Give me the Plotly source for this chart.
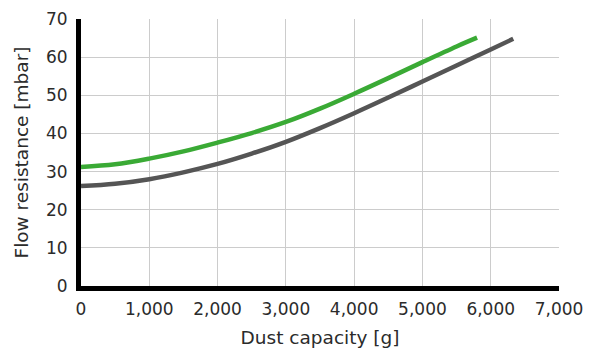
import plotly.graph_objects as go

green_x = [0, 500, 1000, 1500, 2000, 2500, 3000, 3500, 4000, 4500, 5000, 5500, 5800]
green_y = [31.2, 31.9, 33.4, 35.3, 37.6, 40.1, 43.0, 46.5, 50.4, 54.5, 58.7, 62.8, 65.1]

gray_x = [0, 500, 1000, 1500, 2000, 2500, 3000, 3500, 4000, 4500, 5000, 5500, 6000, 6330]
gray_y = [26.2, 26.8, 28.0, 29.8, 32.0, 34.7, 37.8, 41.4, 45.3, 49.4, 53.6, 57.8, 62.0, 64.8]

x_ticks = [0, 1000, 2000, 3000, 4000, 5000, 6000, 7000]
x_tick_labels = ["0", "1,000", "2,000", "3,000", "4,000", "5,000", "6,000", "7,000"]
y_ticks = [0, 10, 20, 30, 40, 50, 60, 70]

fig = go.Figure()
fig.add_trace(go.Scatter(x=gray_x, y=gray_y, mode="lines",
                         line=dict(color="#555555", width=4.5, shape="spline", smoothing=1.0),
                         showlegend=False, hoverinfo="skip"))
fig.add_trace(go.Scatter(x=green_x, y=green_y, mode="lines",
                         line=dict(color="#3aaa35", width=4.5, shape="spline", smoothing=1.0),
                         showlegend=False, hoverinfo="skip"))

font_family = "DejaVu Sans, sans-serif"
fig.update_layout(
    width=594, height=348,
    margin=dict(l=81, r=35, t=19, b=62),
    paper_bgcolor="white", plot_bgcolor="white",
    font=dict(family=font_family, size=17, color="#2b2b2b"),
)
fig.update_xaxes(
    range=[0, 7000], tickvals=x_ticks, ticktext=x_tick_labels,
    showgrid=True, gridcolor="#cccccc", gridwidth=1,
    showline=True, linecolor="black", linewidth=5,
    ticks="outside", ticklen=4, tickcolor="rgba(0,0,0,0)",
    zeroline=False, automargin=False,
    title=dict(text="Dust capacity [g]", font=dict(size=18.5), standoff=18),
)
fig.update_yaxes(
    range=[0, 70], tickvals=y_ticks,
    showgrid=True, gridcolor="#cccccc", gridwidth=1,
    showline=True, linecolor="black", linewidth=5,
    ticks="outside", ticklen=5, tickcolor="rgba(0,0,0,0)",
    zeroline=False, automargin=False,
    title=dict(text="Flow resistance [mbar]", font=dict(size=18.5), standoff=14),
)
fig.write_html(
    "out.html",
    config={"displayModeBar": False},
    post_script="document.body.style.margin='0';document.body.style.padding='0';",
)
